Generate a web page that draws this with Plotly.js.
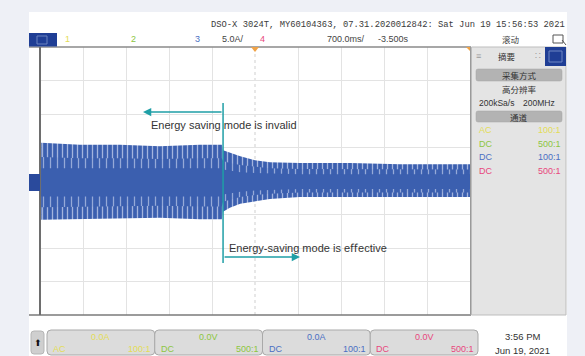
<!DOCTYPE html>
<html>
<head>
<meta charset="utf-8">
<script src="https://cdn.plot.ly/plotly-3.0.1.min.js"></script>
<style>
html,body{margin:0;padding:0;background:#eef0f6;}
#chart{width:585px;height:356px;}
</style>
</head>
<body>
<div id="chart"></div>
<script>
// ---- data (time in s, current in A) ----
const timeS      = [-6.98, -6.35, -5.70, -5.05, -4.40, -4.04, -4.02, -3.91, -3.74, -3.50, -3.26, -2.77, -1.95, -1.14, 0.00];
const upperA     = [ 5.7,   5.4,   5.4,   5.2,   5.4,   5.4,   4.6,   4.2,   3.7,   3.1,   2.8,   2.7,   2.7,   2.5,   2.5];
const lowerA     = [-5.8,  -5.7,  -5.7,  -5.5,  -5.7,  -5.7,  -4.6,  -4.0,  -3.4,  -3.0,  -2.7,  -2.4,  -2.4,  -2.4,  -2.4];
const midUpperA  = [ 3.6,   3.4,   3.4,   3.3,   3.4,   3.4,   3.0,   2.7,   2.4,   2.1,   1.9,   1.8,   1.8,   1.7,   1.7];
const midLowerA  = [-3.9,  -3.8,  -3.8,  -3.7,  -3.8,  -3.8,  -3.1,  -2.8,  -2.4,  -2.1,  -1.9,  -1.7,  -1.7,  -1.7,  -1.7];
const coreUpperA = [ 1.9,   1.9,   1.9,   1.8,   1.9,   1.9,   1.7,   1.5,   1.3,   1.2,   1.1,   1.0,   1.0,   1.0,   1.0];
const coreLowerA = [-2.3,  -2.3,  -2.3,  -2.2,  -2.3,  -2.3,  -2.0,  -1.8,  -1.6,  -1.4,  -1.3,  -1.2,  -1.2,  -1.2,  -1.2];

const cursorT = -4.02;
const annInvalid = "Energy saving mode is invalid";
const annEffective = "Energy-saving mode is e\uFB00ective";

const headerLine = "DSO-X 3024T, MY60104363, 07.31.2020012842: Sat Jun 19 15:56:53 2021";
const chNames    = ["1", "2", "3", "4"];
const chColors   = ["#e3dc57", "#8cc63f", "#4a6fc3", "#e8477d"];
const chCoupling = ["AC", "DC", "DC", "DC"];
const chProbe    = ["100:1", "500:1", "100:1", "500:1"];
const chOffset   = ["0.0A", "0.0V", "0.0A", "0.0V"];
const scaleLabel = "5.0A/";
const timebase   = "700.0ms/";
const delayLabel = "-3.500s";
const modeLabel  = "滚动";
const panelTitle = "摘要";
const acqTitle   = "采集方式";
const acqMode    = "高分辨率";
const sampleRate = "200kSa/s";
const bandwidth  = "200MHz";
const chTitle    = "通道";
const timeLabel  = "3:56 PM";
const dateLabel  = "Jun 19, 2021";

// ---- layout helpers (pixel -> paper / axis coords) ----
const L = 40, R = 470, T = 47, B = 315;
const X = p => (p - L) / (R - L);
const Y = p => (B - p) / (B - T);
const TX = p => -7 + (p - L) / (R - L) * 7;
const AY = p => 20 - (p - T) / (B - T) * 40;

const shapes = [];
const ann = [];
function rect(x0, y0, x1, y1, fill, line, lw, layer) {
  shapes.push({type:'rect', xref:'paper', yref:'paper', x0:X(x0), x1:X(x1), y0:Y(y1), y1:Y(y0),
    fillcolor: fill || 'rgba(0,0,0,0)', line:{color: line || 'rgba(0,0,0,0)', width: lw || 0}, layer: layer || 'below'});
}
function rrect(x0, y0, x1, y1, r, fill, line, lw) {
  const P = (x, y) => X(x) + ',' + Y(y);
  const path = 'M' + P(x0 + r, y0) + ' L' + P(x1 - r, y0) + ' Q' + P(x1, y0) + ' ' + P(x1, y0 + r) +
    ' L' + P(x1, y1 - r) + ' Q' + P(x1, y1) + ' ' + P(x1 - r, y1) +
    ' L' + P(x0 + r, y1) + ' Q' + P(x0, y1) + ' ' + P(x0, y1 - r) +
    ' L' + P(x0, y0 + r) + ' Q' + P(x0, y0) + ' ' + P(x0 + r, y0) + ' Z';
  shapes.push({type:'path', xref:'paper', yref:'paper', path, fillcolor: fill, line:{color: line, width: lw || 1}, layer:'above'});
}
function line(x0, y0, x1, y1, color, w, dash, layer) {
  shapes.push({type:'line', xref:'paper', yref:'paper', x0:X(x0), x1:X(x1), y0:Y(y0), y1:Y(y1),
    line:{color, width:w, dash: dash || 'solid'}, layer: layer || 'below'});
}
function text(t, x, y, opt) {
  opt = opt || {};
  ann.push({xref:'paper', yref:'paper', x:X(x), y:Y(y), text:t, showarrow:false,
    xanchor: opt.xa || 'center', yanchor:'middle',
    font:{family: opt.family || 'Liberation Sans, Arial, sans-serif', size: opt.size || 9, color: opt.color || '#333'}});
}

// white screen panel
rect(29, 12, 567, 356, '#ffffff', null, 0, 'below');

// center dotted lines
shapes.push({type:'line', xref:'x', yref:'paper', x0:-3.5, x1:-3.5, y0:0, y1:1, line:{color:'#cfcfcf', width:1, dash:'dot'}, layer:'below'});
shapes.push({type:'line', xref:'paper', yref:'y', x0:0, x1:1, y0:0, y1:0, line:{color:'#cfcfcf', width:1, dash:'dot'}, layer:'below'});

// frame
line(29, 47, 471, 47, '#8a8a8a', 1.5, 'solid', 'above');
line(29, 315, 471, 315, '#7a7a7a', 1.5, 'solid', 'above');
line(40, 47, 40, 315, '#6e6e6e', 2, 'solid', 'above');
line(470.5, 47, 470.5, 315, '#9a9a9a', 1, 'solid', 'above');

// trigger markers
shapes.push({type:'path', xref:'paper', yref:'paper', path:'M' + X(251) + ',' + Y(47) + ' L' + X(259) + ',' + Y(47) + ' L' + X(255) + ',' + Y(52) + ' Z', fillcolor:'#f0a347', line:{width:0}, layer:'above'});
shapes.push({type:'path', xref:'paper', yref:'paper', path:'M' + X(466) + ',' + Y(47) + ' L' + X(470) + ',' + Y(47) + ' L' + X(470) + ',' + Y(51) + ' Z', fillcolor:'#f0a347', line:{width:0}, layer:'above'});

// ground marker
rect(29, 174, 40, 191, '#2a4a9c', null, 0, 'above');

// top-left blue box
rect(29, 33, 57, 46.5, '#1f3e95', null, 0, 'above');
rect(37, 36, 47, 44, 'rgba(0,0,0,0)', '#6a82c0', 1, 'above');

// header row 1
text(headerLine, 567, 25, {xa:'right', family:'Liberation Mono, DejaVu Sans Mono, monospace', size:8.8, color:'#3a3a3a'});
// header row 2
const chX = [67, 133, 197, 262];
for (let i = 0; i < 4; i++) text(chNames[i], chX[i], 39.5, {color: chColors[i], size:9});
text(scaleLabel, 220, 39.5, {xa:'left', size:9, color:'#444'});
text(timebase, 325, 39.5, {xa:'left', size:9, color:'#444'});
text(delayLabel, 376, 39.5, {xa:'left', size:9, color:'#444'});
text(modeLabel, 511, 39.5, {family:'Noto Sans CJK SC', size:8.5, color:'#444'});
rect(553, 35, 563, 43, 'rgba(0,0,0,0)', '#555', 1, 'above');
line(562, 40, 566, 45, '#555', 1, 'solid', 'above');

// right panel
rect(471.5, 47, 566, 315, '#e4e4e4', '#bdbdbd', 1, 'above');
rect(545, 47, 566, 66, '#1f3e95', null, 0, 'above');
rect(549, 51, 562, 62, 'rgba(0,0,0,0)', '#6f86c4', 1, 'above');
text('≡', 478, 56, {size:9, color:'#9a9a9a'});
text(panelTitle, 507, 56.5, {family:'Noto Sans CJK SC', size:8.5, color:'#333'});
text('∷', 538, 56.5, {size:9, color:'#9a9a9a'});
rrect(476, 69, 562, 81, 2, '#b3b3b3', '#a6a6a6', 0.5);
text(acqTitle, 519, 75, {family:'Noto Sans CJK SC', size:8.5, color:'#333'});
text(acqMode, 519, 88.5, {family:'Noto Sans CJK SC', size:8.5, color:'#333'});
text(sampleRate, 477, 103, {xa:'left', size:8.5, color:'#333'});
text(bandwidth, 557, 103, {xa:'right', size:8.5, color:'#333'});
rrect(476, 111, 562, 122, 2, '#b3b3b3', '#a6a6a6', 0.5);
text(chTitle, 519, 116.5, {family:'Noto Sans CJK SC', size:8.5, color:'#333'});
const rowY = [130, 143.5, 157, 170.5];
for (let i = 0; i < 4; i++) {
  text(chCoupling[i], 477, rowY[i], {xa:'left', size:9, color: chColors[i]});
  text(chProbe[i], 563, rowY[i], {xa:'right', size:9, color: chColors[i]});
}

// bottom bar
rrect(31, 331, 44, 354, 3, '#cfcfcf', '#b5b5b5', 1);
text('⬆', 37.5, 342.5, {family:'DejaVu Sans', size:9, color:'#111'});
const bw = (478 - 47) / 4;
for (let i = 0; i < 4; i++) {
  const x0 = 47 + i * bw, x1 = x0 + bw;
  rrect(x0, 330, x1, 355, 4, '#dcdcdc', '#a9a9a9', 1);
  text(chOffset[i], (x0 + x1) / 2, 336.5, {size:9, color: chColors[i]});
  text(chCoupling[i], x0 + 4, 349, {xa:'left', size:9, color: chColors[i]});
  text(chProbe[i], x1 - 2, 349, {xa:'right', size:9, color: chColors[i]});
}
text(timeLabel, 522, 336.5, {size:9.5, color:'#333'});
text(dateLabel, 522, 350, {size:9.5, color:'#333'});

// teal cursor line and arrows
const teal = '#1f9fa6';
shapes.push({type:'line', xref:'x', yref:'y', x0:cursorT, x1:cursorT, y0:AY(103), y1:AY(263), line:{color:teal, width:1.5}, layer:'above'});
ann.push({xref:'x', yref:'y', axref:'x', ayref:'y', x:TX(143), y:AY(112), ax:cursorT, ay:AY(112), text:'', showarrow:true,
  arrowhead:2, arrowsize:1.1, arrowwidth:1.5, arrowcolor:teal, standoff:0, startstandoff:0});
ann.push({xref:'x', yref:'y', axref:'x', ayref:'y', x:TX(300), y:AY(257), ax:cursorT, ay:AY(257), text:'', showarrow:true,
  arrowhead:2, arrowsize:1.1, arrowwidth:1.5, arrowcolor:teal, standoff:0, startstandoff:0});
text(annInvalid, 149, 124.5, {xa:'left', size:11, color:'#333'});
text(annEffective, 227, 248, {xa:'left', size:11, color:'#333'});

// ---- traces: signal envelope ----
const blue = '#3b5faf';
const traces = [
  {x: timeS, y: lowerA, type:'scatter', mode:'lines', line:{width:0, color:blue}, hoverinfo:'skip'},
  {x: timeS, y: upperA, type:'scatter', mode:'lines', fill:'tonexty', line:{width:0, color:blue},
    fillcolor: blue,
    fillpattern:{shape:'|', bgcolor: blue, fgcolor:'#a3b4de', size:5, solidity:0.26}, hoverinfo:'skip'},
  {x: timeS, y: midLowerA, type:'scatter', mode:'lines', line:{width:0, color:blue}, hoverinfo:'skip'},
  {x: timeS, y: midUpperA, type:'scatter', mode:'lines', fill:'tonexty', line:{width:0, color:blue},
    fillcolor: blue,
    fillpattern:{shape:'|', bgcolor: blue, fgcolor:'#95a9d8', size:7, solidity:0.18}, hoverinfo:'skip'},
  {x: timeS, y: coreLowerA, type:'scatter', mode:'lines', line:{width:0, color:blue}, hoverinfo:'skip'},
  {x: timeS, y: coreUpperA, type:'scatter', mode:'lines', fill:'tonexty', fillcolor: blue, line:{width:0, color:blue}, hoverinfo:'skip'}
];

const layout = {
  width:585, height:356,
  margin:{l:L, r:585 - R, t:T, b:356 - B, pad:0},
  paper_bgcolor:'#eef0f6', plot_bgcolor:'#ffffff',
  showlegend:false,
  font:{family:'Liberation Sans, Arial, sans-serif', size:9, color:'#333'},
  xaxis:{range:[-7, 0], tickvals:[-6.3, -5.6, -4.9, -4.2, -2.8, -2.1, -1.4, -0.7], showgrid:true, gridcolor:'#e3e3e3', gridwidth:1,
    zeroline:false, showticklabels:false, ticks:'', showline:false, fixedrange:true},
  yaxis:{range:[-20, 20], tickvals:[-15, -10, -5, 5, 10, 15], showgrid:true, gridcolor:'#e3e3e3', gridwidth:1,
    zeroline:false, showticklabels:false, ticks:'', showline:false, fixedrange:true},
  shapes, annotations: ann
};

Plotly.newPlot('chart', traces, layout, {displayModeBar:false, staticPlot:true});
</script>
</body>
</html>
